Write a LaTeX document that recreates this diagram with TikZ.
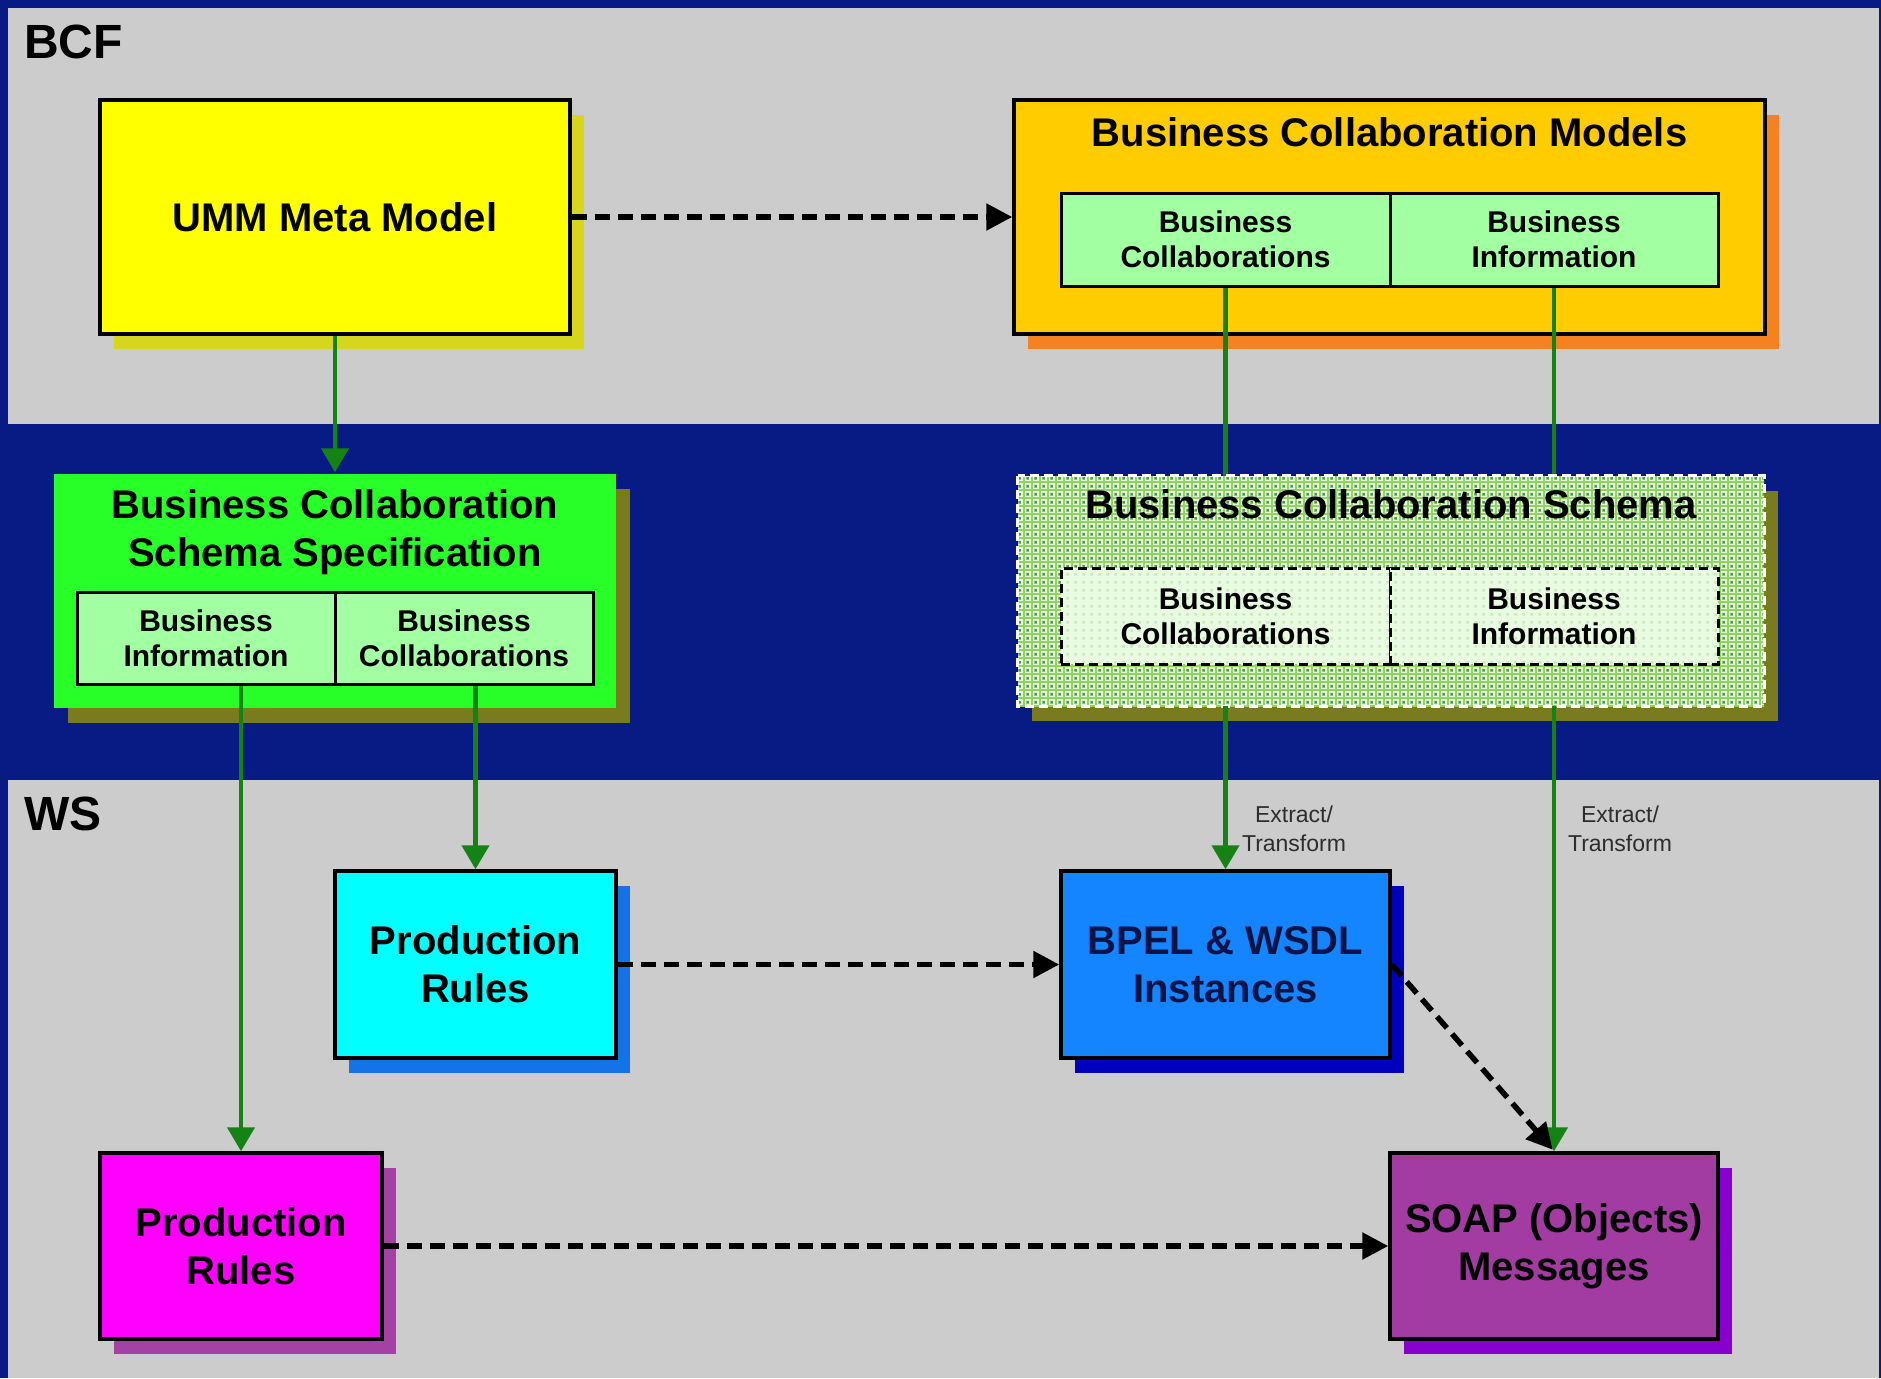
\documentclass[tikz,border=0pt]{standalone}
\usepackage{fontspec}
\setmainfont{Liberation Sans}
\usetikzlibrary{arrows.meta,patterns,shadows,calc}

\definecolor{navy}{RGB}{8,26,132}
\definecolor{panelgray}{RGB}{204,204,204}
\definecolor{yel}{RGB}{255,255,0}
\definecolor{yelsh}{RGB}{214,214,30}
\definecolor{gold}{RGB}{255,204,0}
\definecolor{goldsh}{RGB}{245,130,32}
\definecolor{palegr}{RGB}{162,255,162}
\definecolor{brightgr}{RGB}{40,255,40}
\definecolor{olivesh}{RGB}{122,122,30}
\definecolor{schbase}{RGB}{228,250,215}
\definecolor{schgrid}{RGB}{145,212,95}
\definecolor{schdot}{RGB}{75,155,75}
\definecolor{schinner}{RGB}{232,250,224}
\definecolor{schinnerdot}{RGB}{200,232,190}
\definecolor{cyanbox}{RGB}{0,255,255}
\definecolor{cyansh}{RGB}{20,115,230}
\definecolor{magbox}{RGB}{255,0,255}
\definecolor{magsh}{RGB}{165,65,165}
\definecolor{bpelbox}{RGB}{20,132,255}
\definecolor{bpelsh}{RGB}{0,0,190}
\definecolor{soapbox}{RGB}{162,60,162}
\definecolor{soapsh}{RGB}{135,0,205}
\definecolor{arrgreen}{RGB}{20,130,20}
\definecolor{labelgray}{RGB}{45,45,45}
\definecolor{bpeltext}{RGB}{10,20,70}

\pgfdeclarepatternformonly{gridlines}{\pgfqpoint{-1pt}{-1pt}}{\pgfqpoint{9pt}{9pt}}{\pgfqpoint{8pt}{8pt}}{%
  \pgfsetlinewidth{2.6pt}%
  \pgfpathmoveto{\pgfqpoint{0pt}{-1pt}}\pgfpathlineto{\pgfqpoint{0pt}{9pt}}%
  \pgfpathmoveto{\pgfqpoint{-1pt}{0pt}}\pgfpathlineto{\pgfqpoint{9pt}{0pt}}%
  \pgfusepath{stroke}%
}
\pgfdeclarepatternformonly{griddots}{\pgfqpoint{0pt}{0pt}}{\pgfqpoint{8pt}{8pt}}{\pgfqpoint{8pt}{8pt}}{%
  \pgfpathrectangle{\pgfqpoint{2.7pt}{2.7pt}}{\pgfqpoint{2.8pt}{2.8pt}}%
  \pgfusepath{fill}%
}

\tikzset{
  bigfont/.style={font=\bfseries\fontsize{40}{48}\selectfont},
  smallbold/.style={font=\bfseries\fontsize{30}{35}\selectfont},
  box/.style={draw=black, line width=3.5pt, inner sep=0pt, align=center, bigfont},
  innerbox/.style={draw=black, line width=3pt, inner sep=0pt, align=center, smallbold, fill=palegr},
  dinnerbox/.style={draw=black, line width=3pt, dash pattern=on 9pt off 5pt, inner sep=0pt, align=center, smallbold,
     preaction={fill=schinner}, pattern=griddots, pattern color=schinnerdot},
  shade/.style={general shadow={fill=#1, shadow xshift=14pt, shadow yshift=-15pt}},
  garrow/.style={draw=arrgreen, line width=4.5pt, -{Triangle[length=24pt,width=27pt]}},
  gline/.style={draw=arrgreen, line width=4.5pt},
  darrow/.style={draw=black, line width=5.5pt, dash pattern=on 15pt off 8pt, -{Triangle[length=26pt,width=26pt]}},
  paneltitle/.style={anchor=base west, font=\bfseries\fontsize{48}{48}\selectfont, inner sep=0pt},
  xlabel/.style={font=\fontsize{23}{29}\selectfont, text=labelgray, align=center, inner sep=0pt}
}

\begin{document}
\begin{tikzpicture}[x=1pt,y=-1pt]
\useasboundingbox (0,0) rectangle (1881,1378);
% background and panels
\fill[navy] (0,0) rectangle (1881,1378);
\fill[panelgray] (8,8) rectangle (1879,424);
\fill[panelgray] (8,780) rectangle (1879,1378);
\node[paneltitle] (bcf) at (24,59) {BCF};
\node[paneltitle] (ws) at (24,830) {WS};

% UMM
\node[box, fill=yel, shade=yelsh, minimum width=470pt, minimum height=234pt] (umm) at (335,217) {UMM Meta Model};

% Business Collaboration Models
\node[box, fill=gold, shade=goldsh, minimum width=751pt, minimum height=234pt] (bcm) at (1389.5,217) {};
\node[bigfont, inner sep=0pt] (bcmtitle) at (1389.5,132) {Business Collaboration Models};
\node[innerbox, minimum width=329pt, minimum height=93pt] (bcmcol) at (1225.5,239.5) {Business\\Collaborations};
\node[innerbox, minimum width=328pt, minimum height=93pt] (bcminfo) at (1554,239.5) {Business\\Information};

% BCSS
\node[box, draw=none, fill=brightgr, shade=olivesh, minimum width=562pt, minimum height=234pt] (bcss) at (335,591) {};
\node[bigfont, inner sep=0pt, align=center] (bcsstitle) at (335,532) {Business Collaboration\\Schema Specification};
\node[innerbox, minimum width=258pt, minimum height=92pt] (bcssinfo) at (206,638) {Business\\Information};
\node[innerbox, minimum width=258pt, minimum height=92pt] (bcsscol) at (464,638) {Business\\Collaborations};

% lines from BCM to schema (behind schema)
\coordinate (schtop) at (0,478);
\draw[gline] (bcmcol.south) -- (bcmcol.south |- schtop);
\draw[gline] (bcminfo.south) -- (bcminfo.south |- schtop);

% Schema
\node[inner sep=0pt, minimum width=746pt, minimum height=230pt, shade=olivesh,
      preaction={fill=schbase},
      preaction={pattern=gridlines, pattern color=schgrid},
      pattern=griddots, pattern color=schdot] (schema) at (1391,591) {};
\draw[white, line width=3pt, dash pattern=on 9pt off 5pt] (schema.north west) rectangle (schema.south east);
\node[bigfont, inner sep=0pt] (schtitle) at (1391,504) {Business Collaboration Schema};
\node[dinnerbox, minimum width=329pt, minimum height=96pt] (schcol) at (1225.5,616) {Business\\Collaborations};
\node[dinnerbox, minimum width=328pt, minimum height=96pt] (schinfo) at (1554,616) {Business\\Information};

% WS boxes
\node[box, fill=cyanbox, shade=cyansh, minimum width=281pt, minimum height=187pt] (cyanpr) at (475.5,964.5) {Production\\Rules};
\node[box, fill=magbox, shade=magsh, minimum width=282pt, minimum height=186pt] (magpr) at (241,1246) {Production\\Rules};
\node[box, fill=bpelbox, shade=bpelsh, minimum width=329pt, minimum height=187pt, text=bpeltext] (bpel) at (1225.5,964.5) {BPEL \& WSDL\\Instances};
\node[box, fill=soapbox, shade=soapsh, minimum width=328pt, minimum height=186pt] (soap) at (1554,1246) {SOAP (Objects)\\Messages};

% green arrows
\draw[garrow] (umm.south) -- (bcss.north);
\draw[garrow] (bcssinfo.south -| magpr.north) -- (magpr.north);
\draw[garrow] (bcsscol.south -| cyanpr.north) -- (cyanpr.north);
\draw[garrow] (schema.south -| bpel.north) -- (bpel.north);
\draw[garrow] (schema.south -| soap.north) -- (soap.north);

% labels
\node[xlabel] (lab1) at (1294,829) {Extract/\\Transform};
\node[xlabel] (lab2) at (1620,829) {Extract/\\Transform};

% dashed arrows
\draw[darrow] (umm.east) -- (bcm.west);
\draw[darrow] (cyanpr.east) -- (bpel.west);
\draw[darrow] (magpr.east) -- (soap.west);
\draw[darrow, shorten >=2pt] (bpel.east) -- (soap.north);
\end{tikzpicture}
\end{document}
